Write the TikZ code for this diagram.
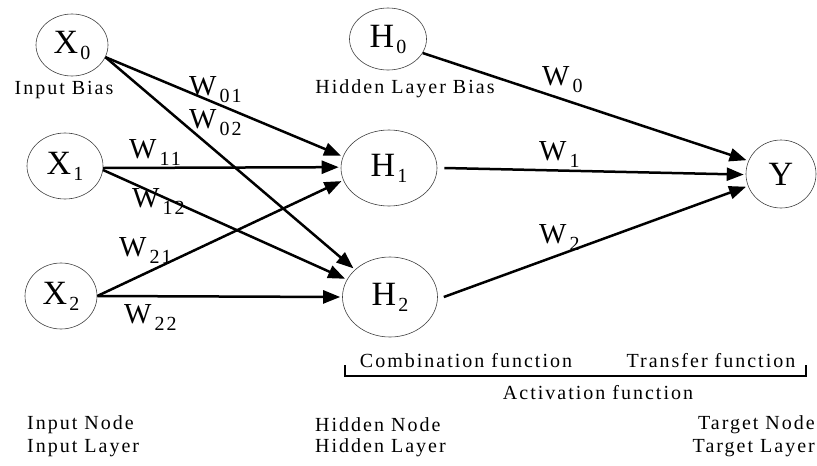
\documentclass[tikz,border=0pt]{standalone}
\usepackage{fontspec}
\setmainfont{Liberation Serif}
\newfontfamily\lblfont{Liberation Serif}[LetterSpace=10]
\usetikzlibrary{shapes.geometric,arrows.meta}
\newcommand\nlab[2]{{\fontsize{34}{34}\selectfont #1}\hspace{2pt}\raisebox{-6pt}{\fontsize{20}{20}\selectfont #2}}
\newcommand\wlab[1]{{\fontsize{29}{29}\selectfont W}\hspace{3pt}\raisebox{-7pt}{\lblfont\fontsize{20}{20}\selectfont #1}}
\begin{document}
\begin{tikzpicture}[x=1pt,y=-1pt,
  neuron/.style={ellipse, draw=black!75, line width=0.6pt, inner sep=0pt},
  conn/.style={line width=2.5pt, shorten >=2pt, -{Triangle[length=17pt,width=13pt]}},
  txt/.style={font=\lblfont\fontsize{20}{20}\selectfont, inner sep=0pt},
  wl/.style={anchor=base west, inner sep=0pt},
  brk/.style={line width=1.4pt}]
\useasboundingbox (0,0) rectangle (817,466);
% nodes
\node[neuron, minimum width=72pt, minimum height=62pt] (X0) at (72,45) {\nlab{X}{0}};
\node[neuron, minimum width=76pt, minimum height=66pt] (X1) at (65,166) {\nlab{X}{1}};
\node[neuron, minimum width=72pt, minimum height=66pt] (X2) at (61,296) {\nlab{X}{2}};
\node[neuron, minimum width=77pt, minimum height=62pt] (H0) at (388,39) {\nlab{H}{0}};
\node[neuron, minimum width=96pt, minimum height=76pt] (H1) at (389,168) {\nlab{H}{1}};
\node[neuron, minimum width=95pt, minimum height=80pt] (H2) at (390,297) {\nlab{H}{2}};
\node[neuron, minimum width=70pt, minimum height=68pt] (Y) at (781,174) {{\fontsize{34}{34}\selectfont Y}};
% captions
\node[txt] (ib) at (64,90) {Input Bias};
\node[txt] (hlb) at (405,89) {Hidden Layer Bias};
\node[txt] (comb) at (466,361) {Combination function};
\node[txt] (trans) at (711,361) {Transfer function};
\node[txt] (act) at (598,393) {Activation function};
\node[txt, anchor=west] (in1) at (27,425) {Input Node};
\node[txt, anchor=west] (in2) at (27,448) {Input Layer};
\node[txt, anchor=west] (hn1) at (315,425) {Hidden Node};
\node[txt, anchor=west] (hn2) at (315,448) {Hidden Layer};
\node[txt, anchor=east] (tn1) at (815,425) {Target Node};
\node[txt, anchor=east] (tn2) at (815,448) {Target Layer};
% bracket
\coordinate (bl) at (345,365);
\coordinate (bl2) at (345,376);
\coordinate (br2) at (806,376);
\coordinate (br) at (806,365);
\draw[brk] (bl) -- (bl2) -- (br2) -- (br);
% connections
\draw[conn] (X0.-20) -- (H1.166);
\draw[conn] (X0.-20) -- (H2.142);
\draw[conn] (X1.-3) -- (H1.179);
\draw[conn] (X1.-6) -- (H2.158);
\draw[conn] (X2.0) -- (H1.195);
\draw[conn] (X2.0) -- (H2.180);
\draw[conn] (H0.-22) -- (Y.158);
\draw[conn] ([xshift=7pt]H1.east) -- (Y.181);
\draw[conn] ([xshift=6pt]H2.east) -- (Y.200);
% weights
\node[wl] (w01) at (189,95) {\wlab{01}};
\node[wl] (w02) at (189,128) {\wlab{02}};
\node[wl] (w11) at (129,158) {\wlab{11}};
\node[wl] (w12) at (132,207) {\wlab{12}};
\node[wl] (w21) at (119,256) {\wlab{21}};
\node[wl] (w22) at (124,323) {\wlab{22}};
\node[wl] (w0) at (542,85) {\wlab{0}};
\node[wl] (w1) at (539,160) {\wlab{1}};
\node[wl] (w2) at (539,243) {\wlab{2}};
\end{tikzpicture}
\end{document}
